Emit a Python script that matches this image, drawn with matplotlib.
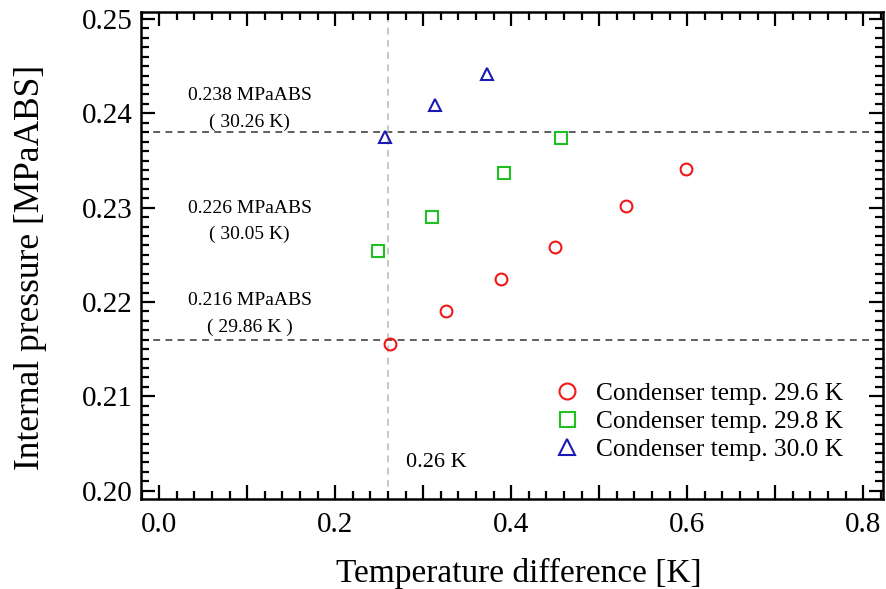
import matplotlib
matplotlib.use("Agg")
import matplotlib.pyplot as plt
from matplotlib.ticker import MultipleLocator, FuncFormatter

# Measured data: temperature difference [K] vs internal pressure [MPaABS]
dt_296 = [0.2625, 0.326, 0.389, 0.450, 0.530, 0.5985]
p_296 = [0.2156, 0.2190, 0.2224, 0.2258, 0.2302, 0.2341]

dt_298 = [0.249, 0.310, 0.392, 0.4565]
p_298 = [0.2254, 0.2290, 0.2337, 0.2374]

dt_300 = [0.257, 0.314, 0.372]
p_300 = [0.2375, 0.2409, 0.2442]

series_labels = ["Condenser temp. 29.6 K", "Condenser temp. 29.8 K",
                 "Condenser temp. 30.0 K"]

ref_pressures = [0.238, 0.216]
ref_dt = 0.26
note_texts = ["0.238 MPaABS\n( 30.26 K)", "0.226 MPaABS\n( 30.05 K)",
              "0.216 MPaABS\n( 29.86 K )"]
note_y = [0.24045, 0.22853, 0.21876]

plt.rcParams["font.family"] = ["Liberation Serif", "DejaVu Serif"]
plt.rcParams["mathtext.fontset"] = "stix"

fig = plt.figure(figsize=(8.86, 5.89), dpi=100)
ax = fig.add_axes([0.1588, 0.1528, 0.9970 - 0.1588, 0.9796 - 0.1528])

for yv in ref_pressures:
    ax.axhline(yv, color="#333333", lw=1.1, ls=(0, (4.5, 3.5)), zorder=1)
ax.axvline(ref_dt, color="#b8b8b8", lw=1.1, ls=(0, (4.5, 3.5)), zorder=1)

mk = dict(ls="none", mfc="none", mew=1.5, ms=8.5, zorder=3)
ax.plot(dt_296, p_296, marker="o", mec="#f01818", label=series_labels[0], **mk)
ax.plot(dt_298, p_298, marker="s", mec="#20c020", label=series_labels[1],
        **{**mk, "ms": 8})
ax.plot(dt_300, p_300, marker="^", mec="#1a1ab4", label=series_labels[2], **mk)

for txt, yv in zip(note_texts, note_y):
    ax.text(0.103, yv, txt, ha="center", va="center", fontsize=14,
            linespacing=1.7)
ax.text(0.28, 0.20300, "0.26 K", ha="left", va="center", fontsize=16)

ax.set_xlim(-0.021, 0.823)
ax.set_ylim(0.19912, 0.25074)

ax.xaxis.set_major_locator(MultipleLocator(0.1))
ax.xaxis.set_minor_locator(MultipleLocator(0.02))
ax.xaxis.set_major_formatter(FuncFormatter(
    lambda v, p: f"{v:.1f}" if round(v * 10) % 2 == 0 else ""))
ax.yaxis.set_major_locator(MultipleLocator(0.01))
ax.yaxis.set_minor_locator(MultipleLocator(0.001))
ax.yaxis.set_major_formatter(FuncFormatter(lambda v, p: f"{v:.2f}"))

ax.tick_params(which="both", direction="in", top=True, right=True,
               width=1.6, labelsize=21)
ax.tick_params(axis="x", which="both", pad=9)
ax.tick_params(axis="y", which="both", pad=6)
ax.tick_params(which="major", length=10)
ax.tick_params(which="minor", length=6)
for s in ax.spines.values():
    s.set_linewidth(1.8)

ax.set_xlabel("Temperature difference [K]", fontsize=24, labelpad=15)
ax.set_ylabel("Internal pressure [MPaABS]", fontsize=25.5, labelpad=25)
ax.xaxis.label.set_x(0.509)
ax.yaxis.label.set_y(0.476)

ax.legend(loc="lower right", bbox_to_anchor=(0.946, 0.078), frameon=False,
          fontsize=18.3, markerscale=1.35, handletextpad=0.35,
          handlelength=1.6, labelspacing=0.2, borderaxespad=0.0,
          borderpad=0.0)

fig.savefig("out.png", dpi=100)
